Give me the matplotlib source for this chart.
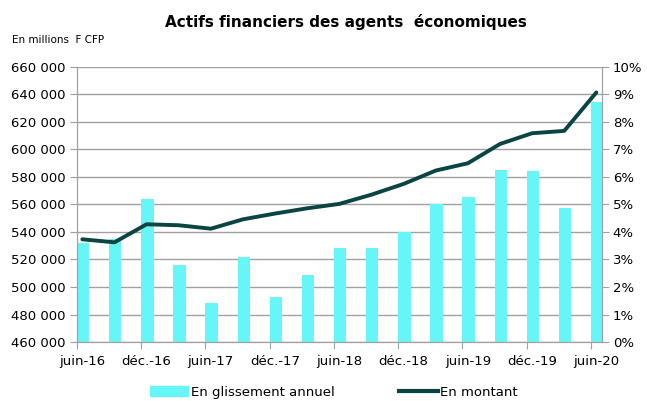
import matplotlib
matplotlib.use('Agg')
import matplotlib.pyplot as plt
from matplotlib.ticker import FuncFormatter, FixedLocator
from matplotlib.lines import Line2D
from matplotlib.patches import Patch

plt.rcParams['font.family'] = ['DejaVu Sans']

# quarterly points, juin-16 .. juin-20 (month index from juin-16)
months = [0, 3, 6, 9, 12, 15, 18, 21, 24, 27, 30, 33, 36, 39, 42, 45, 48]
tick_labels = ['juin-16', 'déc.-16', 'juin-17', 'déc.-17', 'juin-18',
               'déc.-18', 'juin-19', 'déc.-19', 'juin-20']

# En glissement annuel (%)
glissement = [3.61, 3.73, 5.19, 2.79, 1.43, 3.08, 1.62, 2.45, 3.40,
              3.40, 3.98, 5.00, 5.26, 6.25, 6.20, 4.86, 8.73]
# En montant (millions F CFP)
montant = [534600, 532400, 545500, 544800, 542300, 549100, 553300, 557100,
           560300, 567000, 574800, 584500, 589800, 603800, 611600, 613300,
           641200]

bar_color = '#66F6F8'
line_color = '#0A4543'
grid_color = '#A0A0A0'

fig = plt.figure(figsize=(6.47, 4.01), dpi=100)
ax = fig.add_axes([0.119, 0.147, 0.811, 0.687])
ax2 = ax.twinx()

# bars on the right axis, kept underneath the line
ax2.bar([m - 0.5 for m in months], glissement, width=1.15, align='edge',
        color=bar_color, zorder=2)
ax2.set_ylim(0, 10)
ax2.set_yticks(range(0, 11))
ax2.yaxis.set_major_formatter(FuncFormatter(lambda v, p: f'{v:.0f}%'))
ax2.yaxis.grid(True, color=grid_color, linewidth=1)
ax2.set_axisbelow(True)

ax.plot(months, montant, color=line_color, linewidth=2.8,
        solid_capstyle='round', zorder=3)
ax.set_ylim(460000, 660000)
ax.set_yticks(range(460000, 660001, 20000))
ax.yaxis.set_major_formatter(FuncFormatter(lambda v, p: f'{v:,.0f}'.replace(',', ' ')))
ax.set_xlim(-0.5, 48.5)

ax.set_zorder(ax2.get_zorder() + 1)
ax.patch.set_visible(False)

# tick marks between slots, labels under the points
ax.xaxis.set_major_locator(FixedLocator([m - 0.5 for m in months[::2]]))
ax.set_xticklabels([])
ax.xaxis.set_minor_locator(FixedLocator(months[::2]))
ax.set_xticklabels(tick_labels, minor=True)
ax.tick_params(axis='x', which='minor', length=0, pad=9)
ax.tick_params(axis='x', which='major', length=5, color=grid_color)

for a in (ax, ax2):
    for s in a.spines.values():
        s.set_color(grid_color)
    a.spines['top'].set_visible(False)
    a.tick_params(axis='y', length=5, color=grid_color, labelsize=9.5, pad=3)
ax.tick_params(axis='x', which='both', labelsize=9.5)

fig.text(0.535, 0.945, 'Actifs financiers des agents  économiques',
         ha='center', va='center', fontsize=11, fontweight='bold')
fig.text(0.018, 0.9, 'En millions  F CFP', ha='left', va='center', fontsize=7.5)

handles = [Patch(color=bar_color), Line2D([], [], color=line_color, linewidth=3)]
fig.legend(handles, ['En glissement annuel', 'En montant'], loc='center',
           bbox_to_anchor=(0.516, 0.022), ncol=2, frameon=False, fontsize=9.5,
           handlelength=2.9, handleheight=0.8, columnspacing=4.9, handletextpad=0.2)

fig.savefig('out.png', dpi=100)
